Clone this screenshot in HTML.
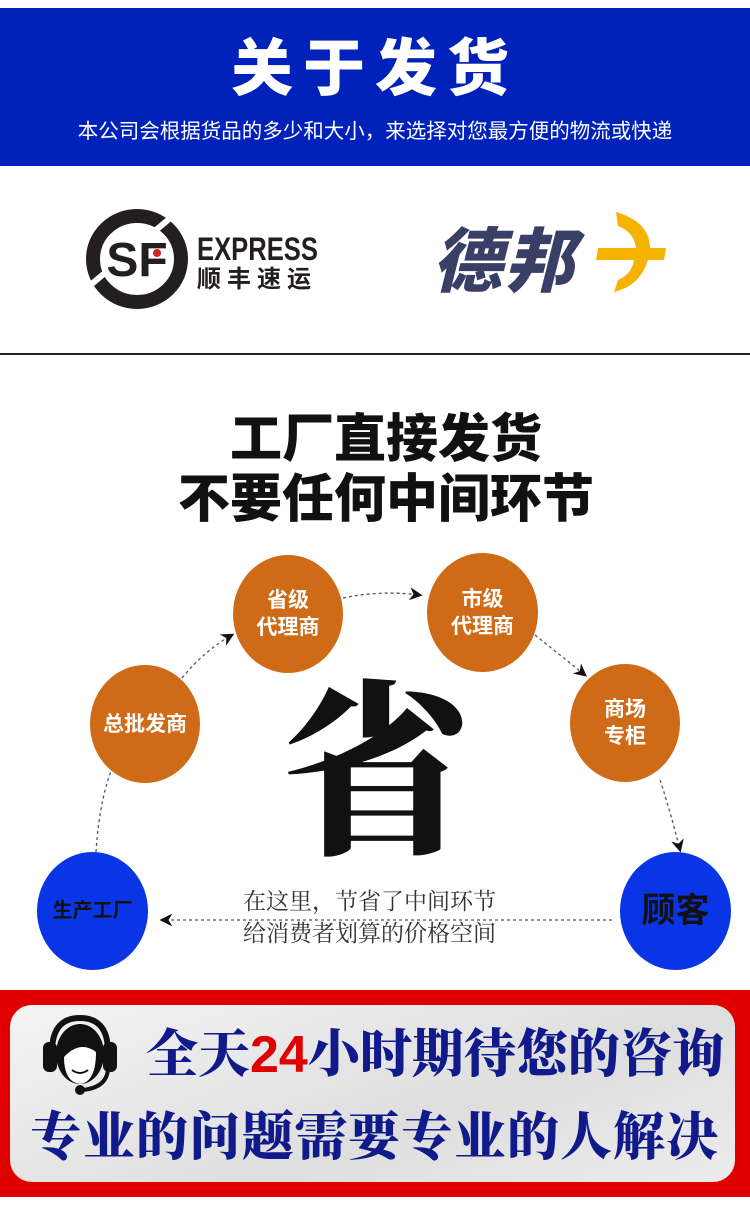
<!DOCTYPE html>
<html><head><meta charset="utf-8"><style>
body{margin:0;width:750px;height:1218px;background:#fff;position:relative;overflow:hidden;font-family:"Liberation Sans","Noto Sans CJK SC",sans-serif}
.a{position:absolute}
.c{position:absolute;border-radius:50%;display:flex;align-items:center;justify-content:center;text-align:center;color:#fff;font-weight:bold;font-size:21px;line-height:27px}
.o{background:#cf6a17}
.b{background:#0a35e6;color:#111}
</style></head><body>
<div class="a" style="left:0;top:8px;width:750px;height:158px;background:#0022bb"></div>
<div class="a" style="left:0;top:30px;width:750px;text-align:center;color:#fff;font-weight:900;font-size:62px;letter-spacing:10px;line-height:80px">关于发货</div>
<div class="a" style="left:0;top:119px;width:750px;text-align:center;color:#fff;font-size:20.5px;line-height:26px">本公司会根据货品的多少和大小，来选择对您最方便的物流或快递</div>
<div class="a" style="left:0;top:353px;width:750px;height:2px;background:#222"></div>
<svg class="a" style="left:85px;top:208px" width="110" height="102" viewBox="0 0 110 102">
<ellipse cx="52" cy="51" rx="44" ry="43" fill="none" stroke="#231f20" stroke-width="14"/>
<rect x="0" y="38" width="110" height="6" fill="#fff" transform="rotate(-40 52 51)"/>
<text x="52" y="68" text-anchor="middle" font-family="Liberation Sans" font-weight="bold" font-size="48" fill="#231f20">SF</text>
<circle cx="72" cy="45" r="4" fill="#d62027"/>
</svg>
<div class="a" style="left:197px;top:232px;font-weight:bold;font-size:32px;color:#231f20;line-height:34px;transform:scaleX(.8);transform-origin:left">EXPRESS</div>
<div class="a" style="left:197px;top:266px;font-weight:bold;font-size:24px;color:#231f20;letter-spacing:6px;line-height:28px">顺丰速运</div>
<div class="a" style="left:432px;top:222px;font-weight:900;font-style:italic;font-size:70px;color:#3a3f66;line-height:80px;letter-spacing:2px">德邦</div>
<svg class="a" style="left:588px;top:210px" width="80" height="90"><path d="M28 2 Q62 12 62 38 L78 38 L76 50 L60 50 Q52 76 26 82 L30 70 Q44 64 46 50 L8 50 L10 38 L48 38 Q46 22 30 16 Z" fill="#f5b300"/></svg>
<div class="a" style="left:0;top:410px;width:772px;text-align:center;font-weight:900;font-size:52px;line-height:60px;color:#111">工厂直接发货<br>不要任何中间环节</div>
<svg class="a" style="left:0;top:540px" width="750" height="440">
<defs><marker id="m" markerWidth="10" markerHeight="10" refX="8" refY="5" orient="auto"><path d="M0 0L10 5L0 10L3 5Z" fill="#111"/></marker></defs>
<g fill="none" stroke="#555" stroke-width="1.3" stroke-dasharray="3 3" marker-end="url(#m)">
<path d="M96 312 Q100 250 118 215"/>
<path d="M182 138 Q205 110 232 95"/>
<path d="M343 58 Q380 50 420 55"/>
<path d="M535 95 Q560 115 585 135"/>
<path d="M660 240 Q670 270 680 310"/>
<path d="M612 380 L162 380"/>
</g>
</svg>
<div class="c o" style="left:233px;top:555px;width:110px;height:118px">省级<br>代理商</div>
<div class="c o" style="left:427px;top:553px;width:111px;height:119px">市级<br>代理商</div>
<div class="c o" style="left:90px;top:665px;width:110px;height:118px">总批发商</div>
<div class="c o" style="left:570px;top:664px;width:110px;height:118px">商场<br>专柜</div>
<div class="c b" style="left:37px;top:852px;width:111px;height:118px;font-size:20px">生产工厂</div>
<div class="c b" style="left:620px;top:852px;width:111px;height:118px;font-size:34px">顾客</div>
<div class="a" style="left:276px;top:666px;width:200px;text-align:center;font-family:'Liberation Serif','Noto Serif CJK SC',serif;font-weight:900;font-size:188px;line-height:220px;color:#111">省</div>
<div class="a" style="left:243px;top:886px;width:290px;font-family:'Liberation Serif','Noto Serif CJK SC',serif;font-size:23px;line-height:32px;color:#333">在这里，节省了中间环节<br>给消费者划算的价格空间</div>
<div class="a" style="left:0;top:990px;width:750px;height:207px;background:#e00000"></div>
<div class="a" style="left:10px;top:1005px;width:725px;height:177px;border-radius:22px;background:linear-gradient(160deg,#f4f4f4,#dedede 60%,#ececec)"></div>
<svg class="a" style="left:40px;top:1012px" width="80" height="86">
<path d="M12 40 Q12 6 40 6 Q68 6 68 40" fill="none" stroke="#111" stroke-width="6"/>
<rect x="3" y="30" width="14" height="30" rx="6" fill="#111"/><rect x="63" y="30" width="14" height="30" rx="6" fill="#111"/>
<ellipse cx="40" cy="42" rx="24" ry="30" fill="#111"/><path d="M24 45 Q40 28 56 40 Q56 70 40 72 Q24 70 24 45Z" fill="#fff"/>
<path d="M32 58 Q40 64 48 58" stroke="#111" stroke-width="2" fill="none"/>
<path d="M68 58 Q66 76 42 78" fill="none" stroke="#111" stroke-width="4"/><circle cx="40" cy="78" r="5" fill="#111"/>
</svg>
<div class="a" style="left:146px;top:1022px;font-family:'Liberation Serif','Noto Serif CJK SC',serif;font-weight:900;font-size:52px;line-height:66px;color:#101a8a;white-space:nowrap">全天<span style="color:#e00000;font-family:'Liberation Sans',sans-serif">24</span>小时期待您的咨询</div>
<div class="a" style="left:30px;top:1106px;font-family:'Liberation Serif','Noto Serif CJK SC',serif;font-weight:900;font-size:52px;line-height:66px;color:#101a8a;white-space:nowrap;letter-spacing:1px">专业的问题需要专业的人解决</div>
</body></html>
